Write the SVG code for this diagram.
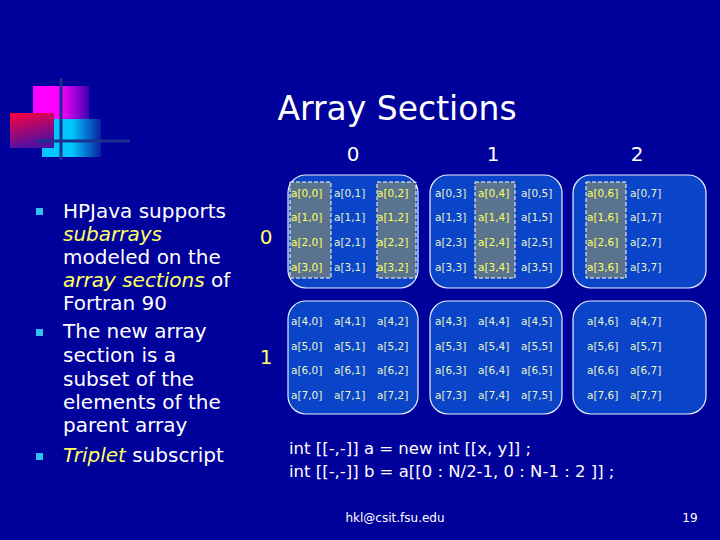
<svg xmlns="http://www.w3.org/2000/svg" width="720" height="540" viewBox="0 0 720 540">
<defs>
<linearGradient id="gm" x1="0" x2="1"><stop offset="0.5" stop-color="#ff00ff"/><stop offset="1" stop-color="#4000b0"/></linearGradient>
<linearGradient id="gr" x1="0" y1="0" x2="0.3" y2="1"><stop offset="0" stop-color="#ff0040"/><stop offset="1" stop-color="#5010a0"/></linearGradient>
<linearGradient id="gc" x1="0" x2="1"><stop offset="0.5" stop-color="#00c8ff"/><stop offset="1" stop-color="#0820a0"/></linearGradient>
<style>
text{font-family:"DejaVu Sans","Liberation Sans",sans-serif;fill:#fff}
.c{font-size:10.5px;fill:#e8f4c8}
.h{fill:#ffff60}
.b{font-size:20px}
.y{fill:#ffff60;font-style:italic}
.box{fill:#0a44c8;stroke:#e8f0ff;stroke-width:1.2}
.hl{fill:#5a7490;stroke:#fff;stroke-width:1;stroke-dasharray:4 2}
.bu{fill:#30c0f0}
</style>
</defs>
<rect width="720" height="540" fill="#00009a"/>
<g id="deco">
<rect x="33" y="86" width="56" height="33" fill="url(#gm)"/>
<rect x="42" y="119" width="59" height="38" fill="url(#gc)"/>
<rect x="10" y="113" width="44" height="35" fill="url(#gr)"/>
<line x1="61" y1="78" x2="61" y2="160" stroke="#1a3090" stroke-width="3"/>
<line x1="36" y1="141" x2="130" y2="141" stroke="#1a3090" stroke-width="3"/>
</g>
<text x="397" y="120" font-size="33" text-anchor="middle">Array Sections</text>
<g id="labels" font-size="20">
<text x="353" y="161" text-anchor="middle">0</text>
<text x="493" y="161" text-anchor="middle">1</text>
<text x="637" y="161" text-anchor="middle">2</text>
<text x="266" y="244" text-anchor="middle" class="h">0</text>
<text x="266" y="364" text-anchor="middle" class="h">1</text>
</g>
<g id="bullets">
<rect class="bu" x="36" y="208" width="7" height="7"/>
<rect class="bu" x="36" y="329" width="7" height="7"/>
<rect class="bu" x="36" y="453" width="7" height="7"/>
<text class="b" x="63" y="218">HPJava supports</text>
<text class="b y" x="63" y="241">subarrays</text>
<text class="b" x="63" y="264">modeled on the</text>
<text class="b" x="63" y="287"><tspan class="y">array sections</tspan> of</text>
<text class="b" x="63" y="310">Fortran 90</text>
<text class="b" x="63" y="338">The new array</text>
<text class="b" x="63" y="362">section is a</text>
<text class="b" x="63" y="386">subset of the</text>
<text class="b" x="63" y="409">elements of the</text>
<text class="b" x="63" y="432">parent array</text>
<text class="b" x="63" y="462"><tspan class="y">Triplet</tspan> subscript</text>
</g>
<g id="box00"><rect class="box" x="288" y="175" width="130" height="113" rx="18"/>
<rect class="hl" x="290" y="182" width="41" height="96"/><rect class="hl" x="377" y="182" width="39" height="96"/></g>
<g id="box01"><rect class="box" x="430" y="175" width="132" height="113" rx="18"/>
<rect class="hl" x="475" y="182" width="40" height="96"/></g>
<g id="box02"><rect class="box" x="573" y="175" width="133" height="113" rx="18"/>
<rect class="hl" x="586" y="182" width="40" height="96"/></g>
<g id="box10"><rect class="box" x="288" y="301" width="130" height="113" rx="18"/></g>
<g id="box11"><rect class="box" x="430" y="301" width="132" height="113" rx="18"/></g>
<g id="box12"><rect class="box" x="573" y="301" width="133" height="113" rx="18"/></g>
<g id="cells">
<g class="c">
<text x="291" y="197" class="c h">a[0,0]</text><text x="334" y="197" class="c">a[0,1]</text><text x="377" y="197" class="c h">a[0,2]</text><text x="435" y="197" class="c">a[0,3]</text><text x="478" y="197" class="c h">a[0,4]</text><text x="521" y="197" class="c">a[0,5]</text><text x="587" y="197" class="c h">a[0,6]</text><text x="630" y="197" class="c">a[0,7]</text>
<text x="291" y="221" class="c h">a[1,0]</text><text x="334" y="221" class="c">a[1,1]</text><text x="377" y="221" class="c h">a[1,2]</text><text x="435" y="221" class="c">a[1,3]</text><text x="478" y="221" class="c h">a[1,4]</text><text x="521" y="221" class="c">a[1,5]</text><text x="587" y="221" class="c h">a[1,6]</text><text x="630" y="221" class="c">a[1,7]</text>
<text x="291" y="246" class="c h">a[2,0]</text><text x="334" y="246" class="c">a[2,1]</text><text x="377" y="246" class="c h">a[2,2]</text><text x="435" y="246" class="c">a[2,3]</text><text x="478" y="246" class="c h">a[2,4]</text><text x="521" y="246" class="c">a[2,5]</text><text x="587" y="246" class="c h">a[2,6]</text><text x="630" y="246" class="c">a[2,7]</text>
<text x="291" y="271" class="c h">a[3,0]</text><text x="334" y="271" class="c">a[3,1]</text><text x="377" y="271" class="c h">a[3,2]</text><text x="435" y="271" class="c">a[3,3]</text><text x="478" y="271" class="c h">a[3,4]</text><text x="521" y="271" class="c">a[3,5]</text><text x="587" y="271" class="c h">a[3,6]</text><text x="630" y="271" class="c">a[3,7]</text>
<text x="291" y="325" class="c">a[4,0]</text><text x="334" y="325" class="c">a[4,1]</text><text x="377" y="325" class="c">a[4,2]</text><text x="435" y="325" class="c">a[4,3]</text><text x="478" y="325" class="c">a[4,4]</text><text x="521" y="325" class="c">a[4,5]</text><text x="587" y="325" class="c">a[4,6]</text><text x="630" y="325" class="c">a[4,7]</text>
<text x="291" y="350" class="c">a[5,0]</text><text x="334" y="350" class="c">a[5,1]</text><text x="377" y="350" class="c">a[5,2]</text><text x="435" y="350" class="c">a[5,3]</text><text x="478" y="350" class="c">a[5,4]</text><text x="521" y="350" class="c">a[5,5]</text><text x="587" y="350" class="c">a[5,6]</text><text x="630" y="350" class="c">a[5,7]</text>
<text x="291" y="374" class="c">a[6,0]</text><text x="334" y="374" class="c">a[6,1]</text><text x="377" y="374" class="c">a[6,2]</text><text x="435" y="374" class="c">a[6,3]</text><text x="478" y="374" class="c">a[6,4]</text><text x="521" y="374" class="c">a[6,5]</text><text x="587" y="374" class="c">a[6,6]</text><text x="630" y="374" class="c">a[6,7]</text>
<text x="291" y="399" class="c">a[7,0]</text><text x="334" y="399" class="c">a[7,1]</text><text x="377" y="399" class="c">a[7,2]</text><text x="435" y="399" class="c">a[7,3]</text><text x="478" y="399" class="c">a[7,4]</text><text x="521" y="399" class="c">a[7,5]</text><text x="587" y="399" class="c">a[7,6]</text><text x="630" y="399" class="c">a[7,7]</text>
</g>
</g>
<g id="connectors"/>
<text x="289" y="454" font-size="16.5">int [[-,-]] a = new int [[x, y]] ;</text>
<text x="289" y="477" font-size="16.5">int [[-,-]] b = a[[0 : N/2-1, 0 : N-1 : 2 ]] ;</text>
<text x="395" y="522" font-size="12" text-anchor="middle">hkl@csit.fsu.edu</text>
<text x="690" y="522" font-size="12" text-anchor="middle">19</text>
</svg>
